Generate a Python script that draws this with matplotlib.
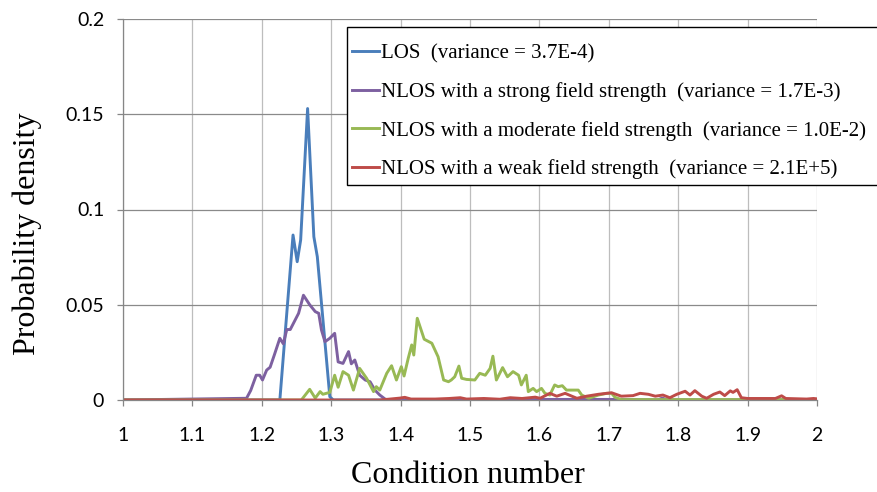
import matplotlib
matplotlib.use("Agg")
import matplotlib.pyplot as plt
from matplotlib.patches import Rectangle

# values
los_x = [1.0, 1.226, 1.245, 1.251, 1.256, 1.266, 1.275, 1.280, 1.298, 1.303, 2.0]
los_y = [0, 0, 0.0866, 0.0726, 0.084, 0.153, 0.0857, 0.0752, 0.0017, 0, 0]

strong_x = [1.0, 1.178, 1.184, 1.192, 1.197, 1.201, 1.207, 1.212, 1.218, 1.226, 1.231,
            1.236, 1.241, 1.253, 1.260, 1.269, 1.277, 1.282, 1.286, 1.291, 1.298, 1.305,
            1.310, 1.317, 1.325, 1.329, 1.334, 1.341, 1.349, 1.356, 1.363, 1.370, 1.378,
            1.385, 1.58, 1.60, 1.72, 1.77, 1.777, 1.785, 2.0]
strong_y = [0, 0.0009, 0.005, 0.013, 0.013, 0.0105, 0.0157, 0.0172, 0.0236, 0.0324, 0.0295,
            0.037, 0.037, 0.0455, 0.055, 0.050, 0.0464, 0.0455, 0.0367, 0.0306, 0.0324, 0.035,
            0.020, 0.0192, 0.0254, 0.019, 0.021, 0.013, 0.0105, 0.0096, 0.0052, 0.0026, 0.0004,
            0, 0, 0.0003, 0.0003, 0, 0.001, 0, 0]

moderate_x = [1.0, 1.257, 1.269, 1.277, 1.284, 1.288, 1.298, 1.305, 1.310, 1.317, 1.325,
              1.332, 1.341, 1.351, 1.361, 1.365, 1.370, 1.380, 1.387, 1.394, 1.401, 1.405,
              1.411, 1.416, 1.419, 1.424, 1.434, 1.445, 1.454, 1.462, 1.469, 1.473, 1.478,
              1.484, 1.488, 1.495, 1.507, 1.514, 1.522, 1.529, 1.533, 1.538, 1.547, 1.554,
              1.562, 1.570, 1.574, 1.581, 1.584, 1.591, 1.596, 1.603, 1.608, 1.615, 1.622,
              1.627, 1.633, 1.639, 1.649, 1.656, 1.661, 1.671, 1.685, 1.697, 1.704, 1.709,
              1.718, 2.0]
moderate_y = [0, 0, 0.0056, 0.001, 0.0044, 0.003, 0.004, 0.013, 0.0067, 0.0149, 0.013,
              0.0052, 0.0166, 0.0114, 0.0044, 0.007, 0.0052, 0.014, 0.018, 0.0105, 0.0175, 0.0126,
              0.0219, 0.0289, 0.0236, 0.0429, 0.0319, 0.0298, 0.0227, 0.0105, 0.0096, 0.0105, 0.0122,
              0.0178, 0.0114, 0.0108, 0.0105, 0.014, 0.013, 0.0166, 0.023, 0.0105, 0.017, 0.0122,
              0.0149, 0.013, 0.0079, 0.013, 0.0044, 0.0061, 0.0044, 0.0061, 0.0035, 0.0026, 0.0079,
              0.007, 0.0075, 0.0052, 0.0052, 0.0052, 0.0026, 0.0009, 0.0026, 0.0035, 0.0035, 0.0014,
              0.0002, 0.0002]

weak_x = [1.0, 1.37, 1.385, 1.399, 1.406, 1.415, 1.45, 1.47, 1.486, 1.495, 1.52, 1.543,
          1.558, 1.575, 1.594, 1.601, 1.615, 1.625, 1.637, 1.654, 1.668, 1.685, 1.704, 1.718,
          1.735, 1.745, 1.757, 1.767, 1.778, 1.788, 1.798, 1.810, 1.817, 1.824, 1.834, 1.841,
          1.851, 1.860, 1.867, 1.875, 1.879, 1.885, 1.891, 1.90, 1.94, 1.949, 1.955, 1.985,
          1.995, 2.0]
weak_y = [0, 0, 0.0005, 0.001, 0.0014, 0.0005, 0.0005, 0.0008, 0.0012, 0.0005, 0.0008, 0.0004,
          0.0012, 0.0008, 0.0015, 0.0009, 0.0035, 0.002, 0.0035, 0.0009, 0.002, 0.003, 0.0038, 0.002,
          0.0023, 0.0035, 0.003, 0.002, 0.0026, 0.0012, 0.003, 0.0046, 0.0026, 0.0049, 0.002, 0.0009,
          0.003, 0.0042, 0.0023, 0.0048, 0.004, 0.0054, 0.0012, 0.0008, 0.0008, 0.0022, 0.0008, 0.0005,
          0.0008, 0.0006]

labels = ["LOS  (variance = 3.7E-4)",
          "NLOS with a strong field strength  (variance = 1.7E-3)",
          "NLOS with a moderate field strength  (variance = 1.0E-2)",
          "NLOS with a weak field strength  (variance = 2.1E+5)"]
colors = ["#4a7ebb", "#7d60a0", "#98b954", "#be4b48"]

x_ticks = [1, 1.1, 1.2, 1.3, 1.4, 1.5, 1.6, 1.7, 1.8, 1.9, 2]
x_ticklabels = ["1", "1.1", "1.2", "1.3", "1.4", "1.5", "1.6", "1.7", "1.8", "1.9", "2"]
y_ticks = [0, 0.05, 0.1, 0.15, 0.2]
y_ticklabels = ["0", "0.05", "0.1", "0.15", "0.2"]

fig = plt.figure(figsize=(8.78, 4.92), dpi=100)
ax = fig.add_axes([123/878, 1 - 400/492, 694/878, 381/492])

series = [(los_x, los_y), (strong_x, strong_y), (moderate_x, moderate_y), (weak_x, weak_y)]
handles = []
for (xs, ys), lab, col in zip(series, labels, colors):
    h, = ax.plot(xs, ys, color=col, linewidth=2.1, label=lab, solid_joinstyle="round")
    handles.append(h)

ax.set_xlim(1, 2)
ax.set_ylim(0, 0.2)
ax.set_xticks(x_ticks)
ax.set_xticklabels(x_ticklabels)
ax.set_yticks(y_ticks)
ax.set_yticklabels(y_ticklabels)

for t in ax.get_xticklabels() + ax.get_yticklabels():
    t.set_family("Lato")
    t.set_fontsize(14)
ax.tick_params(axis="x", direction="out", length=4.5, width=0.9, color="#868686", pad=15)
ax.tick_params(axis="y", direction="out", length=4.5, width=0.9, color="#868686", pad=9)

ax.yaxis.grid(True, color="#8a8a8a", linewidth=0.9)
ax.xaxis.grid(True, color="#bdbdbd", linewidth=0.9)
ax.set_axisbelow(True)
for s in ["top", "right"]:
    ax.spines[s].set_visible(False)
for s in ["left", "bottom"]:
    ax.spines[s].set_color("#868686")
    ax.spines[s].set_linewidth(0.9)

# axis titles placed where the reference has them
fig.text(468/878, 1 - 483/492, "Condition number", family="Liberation Serif",
         fontsize=23, ha="center", va="baseline")
fig.text(27/878, 1 - 234/492, "Probability density", family="Liberation Serif",
         fontsize=23, ha="center", va="center", rotation=90)

# legend box runs off the right edge of the picture, as in the original
box = Rectangle((347/878, 1 - 185/492), 0.7, 158/492, transform=fig.transFigure,
                facecolor="white", edgecolor="black", linewidth=1.0, zorder=4)
fig.patches.append(box)
fig.legend(handles, labels, loc="center left", bbox_to_anchor=(352/878, 1 - 111.5/492),
           borderaxespad=0, borderpad=0, frameon=False,
           prop={"family": "Liberation Serif", "size": 15},
           handlelength=1.3, handletextpad=0.1, labelspacing=0.9)

fig.savefig("out.png", dpi=100)
